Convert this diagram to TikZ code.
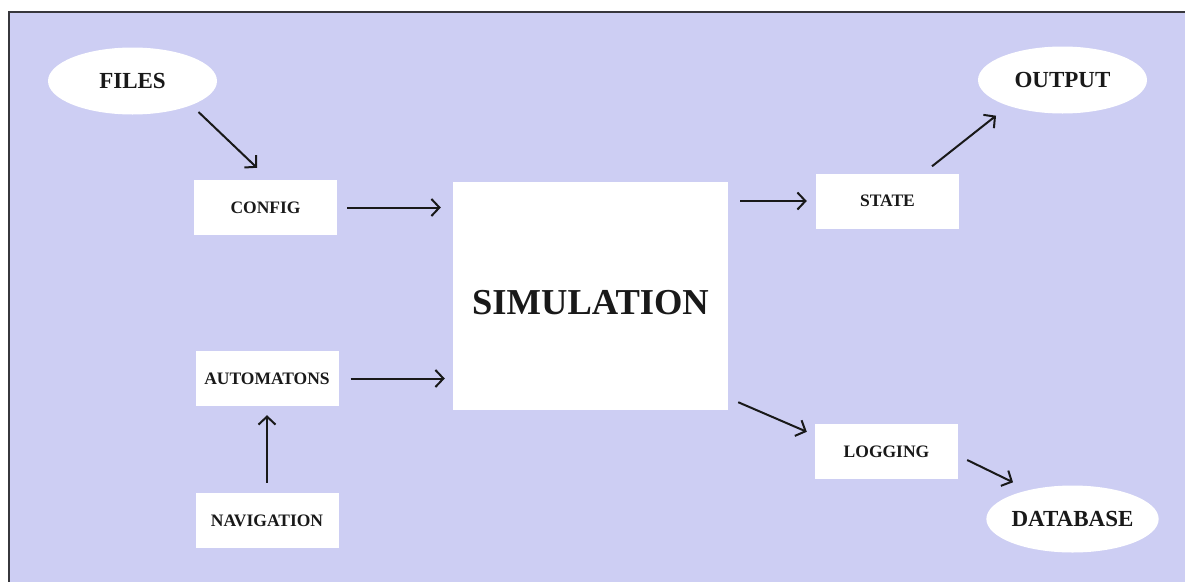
\documentclass[tikz,border=0pt]{standalone}
\usepackage{fontspec}
\setmainfont{Liberation Serif}
\usetikzlibrary{arrows.meta,shapes.geometric}

\definecolor{panel}{RGB}{205,206,243}
\definecolor{frameline}{RGB}{55,55,60}
\definecolor{ink}{RGB}{25,25,25}

\tikzset{
  box/.style={fill=white, inner sep=0pt, minimum width=143pt, minimum height=55pt,
    text=ink, font=\bfseries\fontsize{17.5}{20}\selectfont},
  blob/.style={ellipse, fill=white, inner sep=0pt, minimum width=169pt, minimum height=67pt,
    text=ink, font=\bfseries\fontsize{23}{26}\selectfont},
  core/.style={fill=white, inner sep=0pt, minimum width=275pt, minimum height=228pt,
    text=ink, font=\bfseries\fontsize{36.5}{40}\selectfont, text height=36pt, text depth=0pt},
  arr/.style={draw=ink, line width=2pt, -{Straight Barb[length=8pt,width=17pt,line width=2pt]}}
}

\begin{document}
\begin{tikzpicture}[x=1pt, y=-1pt]
  \useasboundingbox (0,0) rectangle (1185,581);
  \clip (0,0) rectangle (1185,581);

  % background panel
  \fill[white] (0,0) rectangle (1185,581);
  \filldraw[fill=panel, draw=frameline, line width=1.6pt] (9,12) rectangle (1200,600);

  % nodes
  \node[blob] (files)  at (132.5,81) {FILES};
  \node[blob] (output) at (1062.5,80) {OUTPUT};
  \node[blob] (db)     at (1072.5,519) {DATABASE};

  \node[box] (config) at (265.5,207.5) {CONFIG};
  \node[box] (auto)   at (267,378.5) {AUTOMATONS};
  \node[box] (nav)    at (267,520.5) {NAVIGATION};
  \node[box] (state)  at (887.5,201) {STATE};
  \node[box] (log)    at (886.5,451.5) {LOGGING};

  \node[core] (sim) at (590.5,296) {SIMULATION};

  % connectors
  \draw[arr] ([shift={(66,31)}]files.center) -- ([shift={(-8.5,-12)}]config.north);
  \draw[arr, shorten <=10pt, shorten >=12pt] (config.east) -- (config.east -| sim.west);
  \draw[arr, shorten <=12pt, shorten >=8pt] (auto.east) -- (auto.east -| sim.west);
  \draw[arr, shorten <=10pt, shorten >=9pt] (nav.north) -- (auto.south);
  \draw[arr, shorten <=12pt, shorten >=9pt] (state.west -| sim.east) -- (state.west);
  \draw[arr] ([shift={(44.5,-7)}]state.north) -- ([shift={(-66.5,2)}]output.south);
  \draw[arr] ([shift={(10,-8)}]sim.south east) -- ([shift={(-8,8)}]log.north west);
  \draw[arr] ([shift={(9,8.5)}]log.east) -- ([shift={(-59.5,-3)}]db.north);
\end{tikzpicture}
\end{document}
